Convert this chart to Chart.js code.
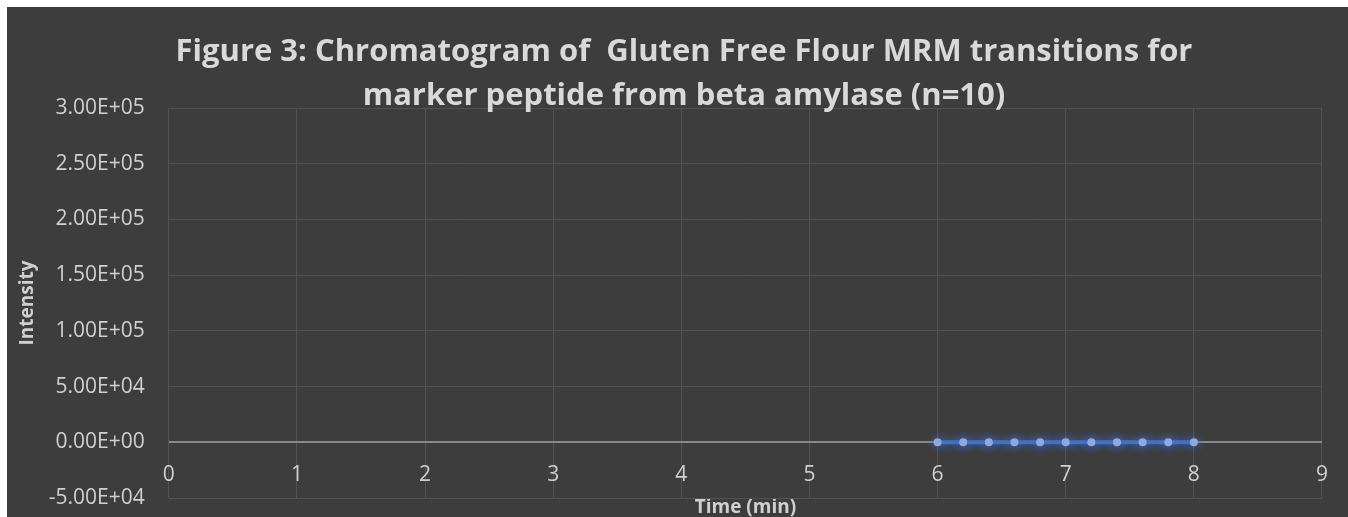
<!DOCTYPE html>
<html>
<head>
<meta charset="utf-8">
<script src="https://cdn.jsdelivr.net/npm/chart.js@4.4.1/dist/chart.umd.min.js"></script>
<style>
  html, body { margin: 0; padding: 0; background: #ffffff; width: 1348px; height: 517px; overflow: hidden; }
  #wrap { position: absolute; left: 7px; top: 7px; width: 1341px; height: 510px; background: #3d3d3d; }
</style>
</head>
<body>
<div id="wrap"><canvas id="c"></canvas></div>
<script>
const titleLines = ["Figure 3: Chromatogram of  Gluten Free Flour MRM transitions for", "marker peptide from beta amylase (n=10)"];
const xAxisTitle = "Time (min)";
const yAxisTitle = "Intensity";
const timeMin = [6.0, 6.2, 6.4, 6.6, 6.8, 7.0, 7.2, 7.4, 7.6, 7.8, 8.0];
const intensity = [0, 0, 0, 0, 0, 0, 0, 0, 0, 0, 0];
const yTicks = [-50000, 0, 50000, 100000, 150000, 200000, 250000, 300000];
const xTicks = [0, 1, 2, 3, 4, 5, 6, 7, 8, 9];

function sci(v) {
  if (v === 0) return "0.00E+00";
  const e = Math.floor(Math.log10(Math.abs(v)));
  const m = v / Math.pow(10, e);
  const es = (e < 0 ? "-" : "+") + String(Math.abs(e)).padStart(2, "0");
  return m.toFixed(2) + "E" + es;
}

Chart.defaults.font.family = "'Open Sans', sans-serif";
Chart.defaults.color = "#d0d0d0";

const glow = {
  id: "glow",
  beforeDatasetDraw(chart) {
    const ctx = chart.ctx;
    ctx.save();
    ctx.shadowColor = "rgba(60,110,220,0.9)";
    ctx.shadowBlur = 10;
  },
  afterDatasetDraw(chart) {
    chart.ctx.restore();
  }
};

const gridCol = "#525252";
const zeroCol = "#8a8a8a";

new Chart(document.getElementById("c"), {
  type: "line",
  data: {
    datasets: [{
      data: timeMin.map((t, i) => ({ x: t, y: intensity[i] })),
      borderColor: "#4472c4",
      borderWidth: 4,
      pointRadius: 4,
      pointBackgroundColor: "#8fa9e0",
      pointBorderColor: "#8fa9e0",
      pointBorderWidth: 0,
      tension: 0
    }]
  },
  options: {
    responsive: true,
    maintainAspectRatio: false,
    animation: false,
    layout: { padding: { left: 39, right: 26, top: 0, bottom: 0 } },
    plugins: {
      legend: { display: false },
      tooltip: { enabled: false },
      title: {
        display: true,
        text: titleLines,
        color: "#d9d9d9",
        font: { size: 31, weight: "bold", lineHeight: 1.42 },
        padding: { top: 23, bottom: -10 }
      }
    },
    scales: {
      x: {
        type: "linear",
        position: { y: 0 },
        min: 0, max: 9,
        afterBuildTicks: (s) => { s.ticks = xTicks.map(v => ({ value: v })); },
        ticks: { color: "#d0d0d0", font: { size: 21 }, padding: 20, maxRotation: 0 },
        grid: { color: gridCol, lineWidth: 1, drawTicks: false },
        border: { display: false }
      },
      x2: {
        type: "linear",
        position: "bottom",
        min: 0, max: 9,
        ticks: { display: false },
        grid: { display: false, drawTicks: false },
        border: { display: false },
        title: { display: true, text: xAxisTitle, color: "#d0d0d0", font: { size: 19, weight: "bold", lineHeight: 1.0 }, padding: { top: 0, bottom: 0 } }
      },
      y: {
        type: "linear",
        min: -50000, max: 300000,
        afterBuildTicks: (s) => { s.ticks = yTicks.map(v => ({ value: v })); },
        ticks: { color: "#d0d0d0", font: { size: 21 }, padding: 0, callback: (v) => sci(v) },
        grid: {
          drawTicks: true,
          tickLength: 24,
          tickColor: "rgba(0,0,0,0)",
          color: (c) => (c.tick && c.tick.value === 0 ? zeroCol : gridCol),
          lineWidth: (c) => (c.tick && c.tick.value === 0 ? 2 : 1)
        },
        border: { display: false },
        title: { display: true, text: yAxisTitle, color: "#d0d0d0", font: { size: 19, weight: "bold", lineHeight: 1.2 }, padding: { top: -30, bottom: 10 } }
      }
    }
  },
  plugins: [glow]
});
</script>
</body>
</html>
